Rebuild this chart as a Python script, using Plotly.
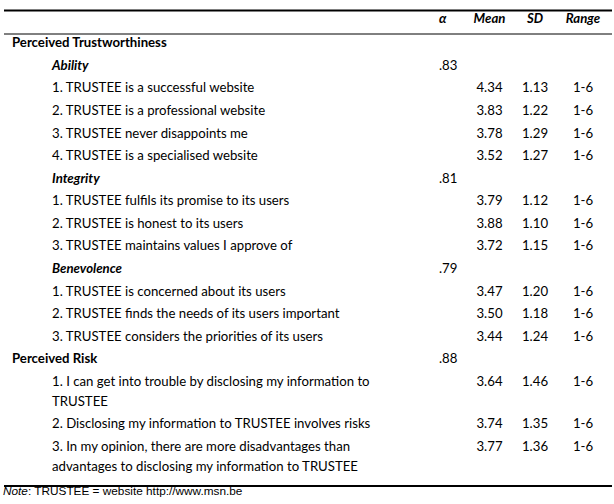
import plotly.graph_objects as go

# ---- data ----
headers = ["α", "Mean", "SD", "Range"]
labels = [
    "Perceived Trustworthiness",
    "Ability",
    "1. TRUSTEE is a successful website",
    "2. TRUSTEE is a professional website",
    "3. TRUSTEE never disappoints me",
    "4. TRUSTEE is a specialised website",
    "Integrity",
    "1. TRUSTEE fulfils its promise to its users",
    "2. TRUSTEE is honest to its users",
    "3. TRUSTEE maintains values I approve of",
    "Benevolence",
    "1. TRUSTEE is concerned about its users",
    "2. TRUSTEE finds the needs of its users important",
    "3. TRUSTEE considers the priorities of its users",
    "Perceived Risk",
    "1. I can get into trouble by disclosing my information to|TRUSTEE",
    "2. Disclosing my information to TRUSTEE involves risks",
    "3. In my opinion, there are more disadvantages than|advantages to disclosing my information to TRUSTEE",
]
kinds = ["section", "sub", "item", "item", "item", "item",
         "sub", "item", "item", "item",
         "sub", "item", "item", "item",
         "section", "item", "item", "item"]
alphas = ["", ".83", "", "", "", "", ".81", "", "", "", ".79", "", "", "", ".88", "", "", ""]
means = ["", "", "4.34", "3.83", "3.78", "3.52", "", "3.79", "3.88", "3.72", "",
         "3.47", "3.50", "3.44", "", "3.64", "3.74", "3.77"]
sds = ["", "", "1.13", "1.22", "1.29", "1.27", "", "1.12", "1.10", "1.15", "",
       "1.20", "1.18", "1.24", "", "1.46", "1.35", "1.36"]
ranges = ["", "", "1-6", "1-6", "1-6", "1-6", "", "1-6", "1-6", "1-6", "",
          "1-6", "1-6", "1-6", "", "1-6", "1-6", "1-6"]
note = "<i>Note</i>: TRUSTEE = website http://www.msn.be"

# ---- layout constants ----
W, H = 614, 504
FONT = "Lato, Carlito, Calibri, sans-serif"
FS = 13.2
row_top, row_step, wrap_step = 44.0, 22.57, 20.0
header_y = 20
x_section, x_item = 12, 52
x_alpha, x_mean, x_sd, x_range = 439, 489.5, 535, 583

# compute y positions
label_x, label_y, label_t = [], [], []
row_y = []
y = row_top
for lab, k in zip(labels, kinds):
    parts = lab.split("|")
    row_y.append(y)
    for j, p in enumerate(parts):
        if k == "section":
            t = f"<b>{p}</b>"
            xx = x_section
        elif k == "sub":
            t = f"<b><i>{p}</i></b>"
            xx = x_item
        else:
            t = p
            xx = x_item
        label_x.append(xx)
        label_y.append(y + j * wrap_step)
        label_t.append(t)
    y += row_step + (len(parts) - 1) * wrap_step

fig = go.Figure()
tf = dict(family=FONT, size=FS, color="black")

fig.add_trace(go.Scatter(x=label_x, y=label_y, text=label_t, mode="text",
                         textposition="middle right", textfont=tf, hoverinfo="skip"))
fig.add_trace(go.Scatter(x=[x_alpha] * len(alphas), y=row_y, text=alphas, mode="text",
                         textposition="middle right", textfont=tf, hoverinfo="skip"))
for xc, vals in [(x_mean, means), (x_sd, sds), (x_range, ranges)]:
    fig.add_trace(go.Scatter(x=[xc] * len(vals), y=row_y, text=vals, mode="text",
                             textposition="middle center", textfont=tf, hoverinfo="skip"))

# headers
fig.add_trace(go.Scatter(x=[x_alpha], y=[header_y], text=[f"<b><i>{headers[0]}</i></b>"],
                         mode="text", textposition="middle right", textfont=tf, hoverinfo="skip"))
fig.add_trace(go.Scatter(x=[x_mean, x_sd, x_range], y=[header_y] * 3,
                         text=[f"<b><i>{h}</i></b>" for h in headers[1:]],
                         mode="text", textposition="middle center", textfont=tf, hoverinfo="skip"))
# note
fig.add_trace(go.Scatter(x=[3], y=[492.5], text=[note], mode="text",
                         textposition="middle right",
                         textfont=dict(family="Liberation Sans, Arial, sans-serif", size=11.8, color="black"),
                         hoverinfo="skip", cliponaxis=False))

# rules
fig.add_shape(type="line", x0=4, x1=612, y0=10.5, y1=10.5, line=dict(color="black", width=2))
fig.add_shape(type="line", x0=4, x1=612, y0=34, y1=34, line=dict(color="black", width=1))
fig.add_shape(type="line", x0=4, x1=612, y0=486, y1=486, line=dict(color="black", width=2))

fig.update_layout(
    width=W, height=H, margin=dict(l=0, r=0, t=0, b=0),
    paper_bgcolor="white", plot_bgcolor="white", showlegend=False,
    hovermode=False,
    xaxis=dict(range=[0, W], visible=False, fixedrange=True),
    yaxis=dict(range=[H, 0], visible=False, fixedrange=True),
)
fig.write_html("out.html", config={"displayModeBar": False, "staticPlot": True},
               post_script="document.body.style.margin='0';document.body.style.overflow='hidden';")
